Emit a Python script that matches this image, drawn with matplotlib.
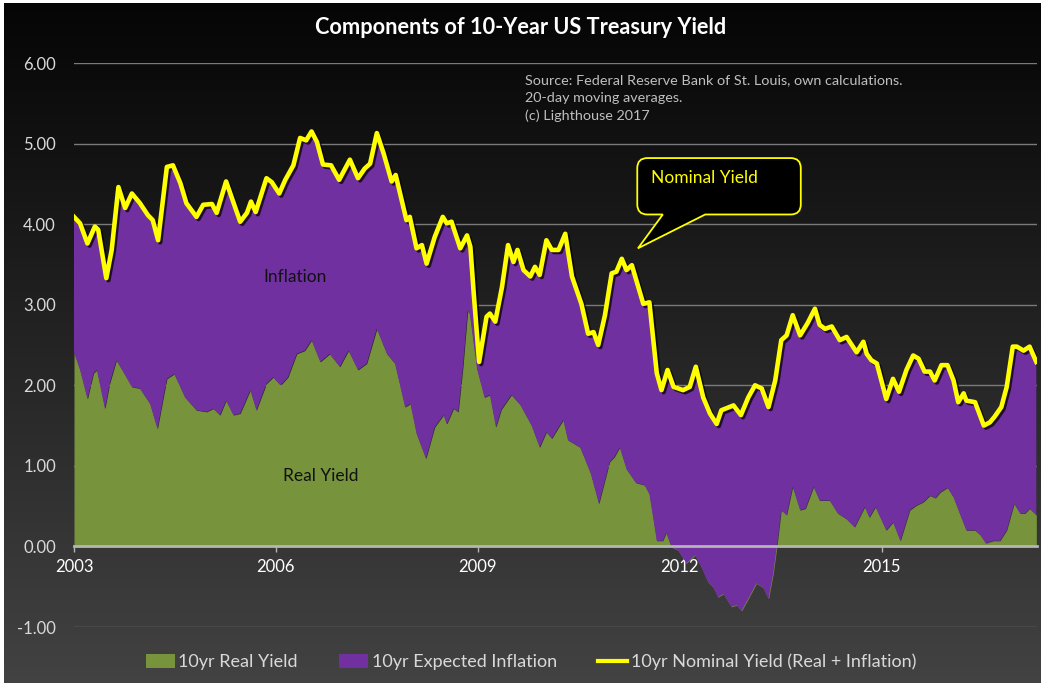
import numpy as np
import matplotlib.pyplot as plt
import matplotlib.patheffects as pe
from matplotlib.path import Path
from matplotlib.patches import PathPatch, Patch
from matplotlib.lines import Line2D

plt.rcParams['font.family'] = ['Lato', 'DejaVu Sans']

# 10yr nominal yield (20-day moving average)
nominal_t = [2003.00, 2003.09, 2003.20, 2003.31, 2003.36, 2003.48, 2003.56, 2003.66, 2003.76, 2003.86,
             2003.98, 2004.10, 2004.17, 2004.25, 2004.38, 2004.47, 2004.58, 2004.67, 2004.82, 2004.92,
             2005.05, 2005.12, 2005.26, 2005.34, 2005.47, 2005.57, 2005.63, 2005.70, 2005.86, 2005.94,
             2006.05, 2006.14, 2006.26, 2006.36, 2006.45, 2006.53, 2006.61, 2006.70, 2006.82, 2006.94,
             2007.10, 2007.22, 2007.32, 2007.40, 2007.50, 2007.60, 2007.72, 2007.78, 2007.94, 2007.99,
             2008.09, 2008.17, 2008.24, 2008.36, 2008.48, 2008.54, 2008.61, 2008.74, 2008.84, 2008.89,
             2008.94, 2009.02, 2009.13, 2009.18, 2009.26, 2009.36, 2009.45, 2009.53, 2009.59, 2009.68,
             2009.78, 2009.85, 2009.92, 2010.02, 2010.10, 2010.20, 2010.30, 2010.40, 2010.54, 2010.64,
             2010.72, 2010.79, 2010.89, 2010.99, 2011.06, 2011.14, 2011.21, 2011.29, 2011.46, 2011.55,
             2011.66, 2011.73, 2011.82, 2011.91, 2012.05, 2012.15, 2012.24, 2012.35, 2012.45, 2012.55,
             2012.62, 2012.80, 2012.91, 2013.02, 2013.12, 2013.22, 2013.32, 2013.42, 2013.51, 2013.59,
             2013.68, 2013.79, 2013.90, 2014.01, 2014.08, 2014.16, 2014.26, 2014.38, 2014.48, 2014.63,
             2014.73, 2014.78, 2014.85, 2014.93, 2015.07, 2015.17, 2015.26, 2015.37, 2015.47, 2015.55,
             2015.64, 2015.72, 2015.79, 2015.89, 2015.98, 2016.07, 2016.14, 2016.22, 2016.26, 2016.39,
             2016.52, 2016.61, 2016.68, 2016.78, 2016.86, 2016.95, 2017.01, 2017.11, 2017.20, 2017.30]
nominal_v = [4.09, 4.01, 3.76, 3.97, 3.93, 3.33, 3.68, 4.46, 4.20, 4.38,
             4.26, 4.11, 4.05, 3.80, 4.71, 4.73, 4.51, 4.26, 4.09, 4.24,
             4.25, 4.14, 4.53, 4.34, 4.03, 4.14, 4.28, 4.15, 4.57, 4.52,
             4.38, 4.55, 4.73, 5.07, 5.04, 5.15, 5.02, 4.74, 4.73, 4.55,
             4.80, 4.57, 4.69, 4.75, 5.13, 4.88, 4.53, 4.61, 4.05, 4.09,
             3.70, 3.74, 3.51, 3.84, 4.09, 4.01, 4.03, 3.70, 3.86, 3.72,
             3.14, 2.29, 2.85, 2.89, 2.79, 3.22, 3.74, 3.53, 3.68, 3.43,
             3.35, 3.47, 3.37, 3.80, 3.68, 3.68, 3.88, 3.35, 3.01, 2.64,
             2.66, 2.50, 2.87, 3.39, 3.41, 3.57, 3.43, 3.49, 3.01, 3.03,
             2.15, 1.94, 2.19, 1.98, 1.94, 1.98, 2.23, 1.85, 1.65, 1.52,
             1.69, 1.75, 1.63, 1.85, 2.00, 1.96, 1.73, 2.06, 2.56, 2.62,
             2.87, 2.62, 2.77, 2.95, 2.75, 2.70, 2.73, 2.56, 2.60, 2.41,
             2.54, 2.39, 2.31, 2.27, 1.83, 2.08, 1.92, 2.19, 2.37, 2.33,
             2.17, 2.17, 2.06, 2.25, 2.25, 2.06, 1.79, 1.90, 1.81, 1.79,
             1.50, 1.54, 1.61, 1.73, 1.98, 2.48, 2.48, 2.43, 2.48, 2.29]

# 10yr real yield (TIPS)
real_t = [2003.00, 2003.09, 2003.20, 2003.29, 2003.34, 2003.46, 2003.53, 2003.63, 2003.73, 2003.86,
          2003.98, 2004.13, 2004.24, 2004.38, 2004.49, 2004.65, 2004.82, 2004.97, 2005.07, 2005.17,
          2005.26, 2005.37, 2005.47, 2005.62, 2005.71, 2005.86, 2005.96, 2006.07, 2006.18, 2006.31,
          2006.43, 2006.53, 2006.66, 2006.80, 2006.95, 2007.08, 2007.22, 2007.35, 2007.50, 2007.65,
          2007.77, 2007.92, 2008.00, 2008.09, 2008.23, 2008.36, 2008.49, 2008.54, 2008.64, 2008.71,
          2008.78, 2008.85, 2008.88, 2008.99, 2009.10, 2009.18, 2009.27, 2009.35, 2009.50, 2009.63,
          2009.80, 2009.92, 2010.02, 2010.10, 2010.27, 2010.34, 2010.52, 2010.58, 2010.68, 2010.80,
          2010.96, 2011.03, 2011.11, 2011.21, 2011.35, 2011.48, 2011.55, 2011.66, 2011.75, 2011.80,
          2011.88, 2011.98, 2012.10, 2012.23, 2012.32, 2012.42, 2012.50, 2012.57, 2012.65, 2012.77,
          2012.85, 2012.92, 2013.02, 2013.14, 2013.24, 2013.32, 2013.39, 2013.45, 2013.51, 2013.59,
          2013.68, 2013.79, 2013.87, 2013.99, 2014.08, 2014.23, 2014.35, 2014.48, 2014.60, 2014.75,
          2014.82, 2014.91, 2015.07, 2015.17, 2015.28, 2015.42, 2015.52, 2015.62, 2015.72, 2015.80,
          2015.87, 2015.98, 2016.07, 2016.17, 2016.26, 2016.39, 2016.47, 2016.55, 2016.66, 2016.76,
          2016.86, 2016.97, 2017.06, 2017.13, 2017.20, 2017.30]
real_v = [2.41, 2.19, 1.83, 2.15, 2.19, 1.71, 2.02, 2.31, 2.17, 1.98,
          1.96, 1.77, 1.46, 2.08, 2.14, 1.85, 1.69, 1.67, 1.71, 1.63,
          1.81, 1.63, 1.65, 1.94, 1.69, 2.02, 2.10, 2.00, 2.10, 2.39,
          2.43, 2.56, 2.29, 2.39, 2.23, 2.43, 2.19, 2.27, 2.70, 2.39,
          2.27, 1.73, 1.77, 1.40, 1.09, 1.48, 1.63, 1.52, 1.71, 1.67,
          2.23, 2.92, 2.89, 2.20, 1.85, 1.88, 1.48, 1.70, 1.88, 1.76,
          1.50, 1.23, 1.42, 1.34, 1.57, 1.32, 1.23, 1.11, 0.90, 0.53,
          1.05, 1.11, 1.23, 0.96, 0.79, 0.76, 0.65, 0.07, 0.07, 0.17,
          -0.01, -0.05, -0.21, -0.11, -0.25, -0.44, -0.51, -0.63, -0.59, -0.75,
          -0.73, -0.80, -0.65, -0.46, -0.51, -0.65, -0.34, 0.03, 0.45, 0.39,
          0.74, 0.45, 0.47, 0.74, 0.57, 0.57, 0.41, 0.34, 0.24, 0.49,
          0.36, 0.49, 0.20, 0.30, 0.07, 0.45, 0.51, 0.55, 0.63, 0.60,
          0.67, 0.73, 0.61, 0.39, 0.20, 0.20, 0.14, 0.04, 0.07, 0.07,
          0.20, 0.53, 0.41, 0.41, 0.47, 0.39]

year_ticks = [2003, 2006, 2009, 2012, 2015]
y_ticks = [-1, 0, 1, 2, 3, 4, 5, 6]

GREEN = '#77933C'
PURPLE = '#7030A0'
YELLOW = '#FFFF00'

fig = plt.figure(figsize=(10.41, 6.83), dpi=100, facecolor='white')

# dark vertical gradient background
bg = fig.add_axes([4 / 1041, 0, 1 - 4 / 1041, 1 - 3 / 683], zorder=-10)
grad = np.linspace(0, 1, 256).reshape(-1, 1)
shade = 0.02 + 0.24 * grad
bg.imshow(np.dstack([shade, shade, shade]), aspect='auto', extent=[0, 1, 1, 0])
bg.axis('off')

ax = fig.add_axes([74 / 1041, (683 - 627) / 683, (1037 - 74) / 1041, (627 - 63) / 683])
ax.set_facecolor('none')
ax.set_xlim(2003, 2017.31)
ax.set_ylim(-1, 6)

# gridlines
for y in y_ticks:
    if y != 0:
        ax.axhline(y, color='#7a7a7a', lw=1, zorder=0)

# real yield area, then expected inflation stacked between real and nominal
ax.fill_between(real_t, 0, real_v, color=GREEN, lw=0, zorder=1)
poly_x = np.concatenate([nominal_t, real_t[::-1]])
poly_y = np.concatenate([nominal_v, real_v[::-1]])
ax.fill(poly_x, poly_y, color=PURPLE, lw=0, zorder=2)

ax.plot(nominal_t, nominal_v, color=YELLOW, lw=3.3, zorder=4, solid_joinstyle='round',
        path_effects=[pe.SimpleLineShadow(offset=(1.5, -1.5), shadow_color='black', alpha=0.7),
                      pe.Normal()])

# axis styling: category axis crosses at zero
for s in ['top', 'right', 'left']:
    ax.spines[s].set_visible(False)
ax.spines['bottom'].set_position(('data', 0))
ax.spines['bottom'].set_color('#b5b5b5')
ax.spines['bottom'].set_linewidth(2)
ax.spines['bottom'].set_zorder(3)
ax.set_xticks(year_ticks)
ax.set_xticklabels([str(y) for y in year_ticks])
ax.tick_params(axis='x', colors='#b5b5b5', length=4, width=1, pad=5, labelsize=12, labelcolor='white')
ax.set_yticks(y_ticks)
ax.set_yticklabels([f'{y:.2f}' for y in y_ticks])
ax.tick_params(axis='y', length=0, pad=13, labelsize=12, labelcolor='#d9d9d9')

# area labels
ax.text(2006.28, 3.34, 'Inflation', ha='center', va='center', fontsize=12.5, color='#111111', zorder=5)
ax.text(2006.66, 0.87, 'Real Yield', ha='center', va='center', fontsize=12.5, color='#111111', zorder=5)

# callout "Nominal Yield"
x0, x1, y0, y1 = 2011.37, 2013.80, 4.12, 4.82
rx, ry = 0.15, 0.125
xa, xb = 2011.75, 2012.38
tip = (2011.38, 3.70)
verts = [(x0 + rx, y0), (xa, y0), tip, (xb, y0), (x1 - rx, y0),
         (x1, y0), (x1, y0 + ry), (x1, y1 - ry), (x1, y1), (x1 - rx, y1),
         (x0 + rx, y1), (x0, y1), (x0, y1 - ry), (x0, y0 + ry), (x0, y0), (x0 + rx, y0),
         (x0 + rx, y0)]
codes = [Path.MOVETO, Path.LINETO, Path.LINETO, Path.LINETO, Path.LINETO,
         Path.CURVE3, Path.CURVE3, Path.LINETO, Path.CURVE3, Path.CURVE3,
         Path.LINETO, Path.CURVE3, Path.CURVE3, Path.LINETO, Path.CURVE3, Path.CURVE3,
         Path.CLOSEPOLY]
ax.add_patch(PathPatch(Path(verts, codes), facecolor='black', edgecolor=YELLOW, lw=1.3, zorder=6))
ax.text(2011.57, 4.57, 'Nominal Yield', ha='left', va='center', fontsize=12.5, color=YELLOW, zorder=7)

# source note
fig.text(525 / 1041, 1 - 74 / 683,
         'Source: Federal Reserve Bank of St. Louis, own calculations.\n20-day moving averages.\n(c) Lighthouse 2017',
         ha='left', va='top', fontsize=10.4, color='#bfbfbf', linespacing=1.55)

# title
fig.text(0.5, 1 - 27 / 683, 'Components of 10-Year US Treasury Yield', ha='center', va='center',
         fontsize=15.7, fontweight='bold', color='white')

# legend
handles = [Patch(facecolor=GREEN, edgecolor='none'),
           Patch(facecolor=PURPLE, edgecolor='none'),
           Line2D([0], [0], color=YELLOW, lw=3)]
labels = ['10yr Real Yield', '10yr Expected Inflation', '10yr Nominal Yield (Real + Inflation)']
fig.legend(handles, labels, loc='center', bbox_to_anchor=(531 / 1041, 1 - 662 / 683), ncol=3,
           frameon=False, fontsize=13, labelcolor='#d9d9d9', handlelength=1.6, handleheight=0.75,
           handletextpad=0.2, columnspacing=2.3)

fig.savefig('out.png', dpi=100, facecolor=fig.get_facecolor())
